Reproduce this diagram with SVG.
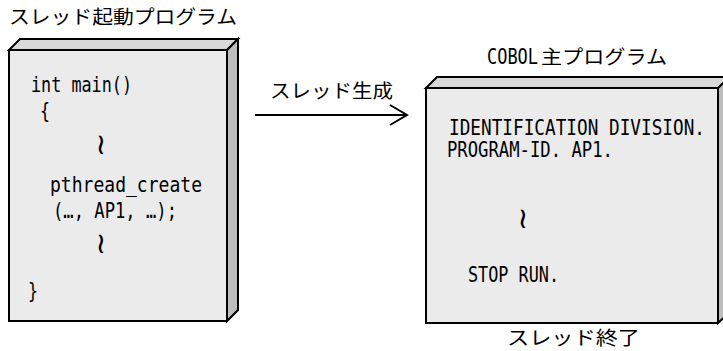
<svg xmlns="http://www.w3.org/2000/svg" width="723" height="351" viewBox="0 0 723 351">
<style>
.front{fill:#ebebeb;stroke:#000;stroke-width:2;stroke-linejoin:miter}
.top{fill:#d9d9d9;stroke:#000;stroke-width:2}
.side{fill:#bdbdbd;stroke:#000;stroke-width:2}
.jp{font-family:"Noto Sans CJK JP","Noto Sans",sans-serif;font-size:19px;fill:#000}
.code{font-family:"DejaVu Sans Mono","Liberation Mono",monospace;font-size:21px;fill:#000}
.wave{font-family:"DejaVu Sans","Noto Sans",sans-serif;font-size:29px;fill:#000;text-anchor:middle}
.conn{stroke:#000;stroke-width:2;fill:none}
</style>
<defs>
<marker id="open" viewBox="0 0 20 24" refX="18" refY="12" markerWidth="20" markerHeight="24" markerUnits="userSpaceOnUse" orient="auto">
<path d="M1,2 L18,12 L1,22" fill="none" stroke="#000" stroke-width="2"/>
</marker>
</defs>
<g id="label-start">
<text class="jp" x="9" y="24" textLength="228" lengthAdjust="spacingAndGlyphs">スレッド起動プログラム</text>
</g>
<g id="thread-start-program">
<polygon class="top" points="9,50 20,39 238,39 227,50"/>
<polygon class="side" points="227,50 238,39 238,310 227,321"/>
<rect class="front" x="9" y="50" width="218" height="271"/>
<text class="code" x="31" y="92" textLength="101" lengthAdjust="spacingAndGlyphs">int main()</text>
<text class="code" x="40" y="118" textLength="10" lengthAdjust="spacingAndGlyphs">{</text>
<text class="wave" x="101" y="154">≀</text>
<text class="code" x="50" y="192" textLength="152" lengthAdjust="spacingAndGlyphs">pthread_create</text>
<text class="code" x="53" y="218" textLength="124" lengthAdjust="spacingAndGlyphs">(…, AP1, …);</text>
<text class="wave" x="101" y="253">≀</text>
<text class="code" x="28" y="298" textLength="10" lengthAdjust="spacingAndGlyphs">}</text>
</g>
<g id="connectors">
<line class="conn" x1="255" y1="115" x2="407" y2="115" marker-end="url(#open)"/>
<text class="jp" x="270" y="98" textLength="123" lengthAdjust="spacingAndGlyphs">スレッド生成</text>
</g>
<g id="label-cobol">
<text class="jp" y="64"><tspan class="code" x="487" textLength="51" lengthAdjust="spacingAndGlyphs">COBOL</tspan><tspan x="541" textLength="126" lengthAdjust="spacingAndGlyphs">主プログラム</tspan></text>
</g>
<g id="cobol-main-program">
<polygon class="top" points="426,88 437,77 730,77 718,88"/>
<polygon class="side" points="718,88 730,77 730,312 718,323"/>
<rect class="front" x="426" y="88" width="292" height="235"/>
<text class="code" x="449" y="135" textLength="256" lengthAdjust="spacingAndGlyphs">IDENTIFICATION DIVISION.</text>
<text class="code" x="447" y="157" textLength="166" lengthAdjust="spacingAndGlyphs">PROGRAM-ID. AP1.</text>
<text class="wave" x="523" y="228">≀</text>
<text class="code" x="468" y="282" textLength="91" lengthAdjust="spacingAndGlyphs">STOP RUN.</text>
</g>
<g id="label-end">
<text class="jp" x="507" y="345" textLength="133" lengthAdjust="spacingAndGlyphs">スレッド終了</text>
</g>
</svg>
